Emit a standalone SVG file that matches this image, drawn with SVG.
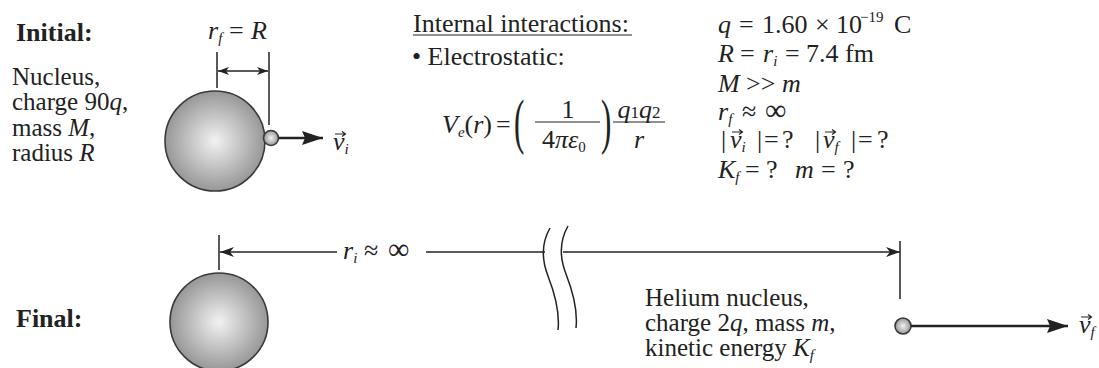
<svg xmlns="http://www.w3.org/2000/svg" width="1099" height="368" viewBox="0 0 1099 368">
<style>
text{font-family:"Liberation Serif","DejaVu Serif",serif;font-size:26px;fill:#222}
.blk{font-size:25px}
.b{font-weight:bold}
.i{font-style:italic}
.sub{font-size:15px;font-style:italic}
.sup{font-size:15px}
.ln{stroke:#222;stroke-width:1.5;fill:none}
.vel{stroke:#222;stroke-width:2.6;fill:none}
.sph{fill:url(#g);stroke:#3a3a3a;stroke-width:1.6}
.va{stroke:#222;stroke-width:1.2;fill:none}
</style>
<defs>
<radialGradient id="g" cx="50%" cy="50%" r="55%">
<stop offset="0" stop-color="#f2f2f2"/>
<stop offset="1" stop-color="#8e8e8e"/>
</radialGradient>
<marker id="ah" markerUnits="userSpaceOnUse" markerWidth="24" markerHeight="16" refX="21" refY="7" orient="auto">
<path d="M0,0 L21,7 L0,14 L3,7 z" fill="#222"/>
</marker>
<marker id="ad" markerUnits="userSpaceOnUse" markerWidth="16" markerHeight="12" refX="14" refY="5" orient="auto-start-reverse">
<path d="M0,0 L14,5 L0,10 L4,5 z" fill="#222"/>
</marker>
<marker id="as" markerUnits="userSpaceOnUse" markerWidth="14" markerHeight="10" refX="11" refY="4" orient="auto-start-reverse">
<path d="M0,0 L11,4 L0,8 L3,4 z" fill="#222"/>
</marker>
<g id="varr"><path d="M0,0 H10 M7,-2.6 L10.5,0 L7,2.6" class="va"/></g>
</defs>

<g id="labels-left">
<text x="16" y="41" class="b">Initial:</text>
<text x="12" y="85" class="blk">Nucleus,</text>
<text x="12" y="110" class="blk">charge 90<tspan class="i">q</tspan>,</text>
<text x="12" y="136" class="blk">mass <tspan class="i">M</tspan>,</text>
<text x="12" y="161" class="blk">radius <tspan class="i">R</tspan></text>
<text x="16" y="327" class="b">Final:</text>
</g>

<g id="nucleus-initial">
<circle cx="215" cy="141" r="50" class="sph"/>
</g>
<g id="alpha-initial">
<circle cx="271" cy="138" r="7.5" class="sph"/>
</g>
<g id="rf-label">
<text x="208" y="39"><tspan class="i">r</tspan><tspan class="sub" dy="4">f</tspan><tspan x="229" y="39">=</tspan><tspan x="251" class="i">R</tspan></text>
</g>
<g id="vi-label">
<text x="333" y="150" class="i">v<tspan class="sub" dy="4">i</tspan></text>
<use href="#varr" x="335" y="134"/>
</g>

<g id="internal">
<text x="413" y="32">Internal interactions:</text>
<line x1="413" y1="35" x2="632" y2="35" stroke="#222" stroke-width="1"/>
<text x="412" y="65">• Electrostatic:</text>
</g>

<g id="formula">
<text x="442" y="133"><tspan class="i">V</tspan><tspan class="sub" dy="4">e</tspan><tspan dy="-4">(</tspan><tspan class="i">r</tspan>)</text>
<text x="496" y="133">=</text>
<text transform="translate(514,142) scale(0.5,1)" style="font-size:62px">(</text>
<text x="568" y="118" text-anchor="middle">1</text>
<line x1="535" y1="122" x2="600" y2="122" stroke="#222" stroke-width="1.2"/>
<text x="542" y="148">4<tspan class="i">πε</tspan><tspan class="sup" dy="4">0</tspan></text>
<text transform="translate(601,142) scale(0.5,1)" style="font-size:62px">)</text>
<text x="639" y="118" text-anchor="middle"><tspan class="i">q</tspan><tspan style="font-size:17px">1</tspan><tspan class="i">q</tspan><tspan style="font-size:17px">2</tspan></text>
<line x1="613" y1="122" x2="665" y2="122" stroke="#222" stroke-width="1.2"/>
<text x="639" y="148" text-anchor="middle" class="i">r</text>
</g>

<g id="givens">
<text y="33"><tspan x="718" class="i">q</tspan><tspan x="739">=</tspan><tspan x="762">1.60</tspan><tspan x="815">×</tspan><tspan x="836">10</tspan><tspan class="sup" x="860" y="22">−19</tspan><tspan x="894" y="33">C</tspan></text>
<text y="62"><tspan x="718" class="i">R</tspan><tspan x="740">=</tspan><tspan x="763" class="i">r</tspan><tspan class="sub" dy="4">i</tspan><tspan x="785" y="62">=</tspan><tspan x="806">7.4 fm</tspan></text>
<text y="92"><tspan x="718" class="i">M</tspan><tspan x="746">&gt;&gt;</tspan><tspan x="782" class="i">m</tspan></text>
<text y="120"><tspan x="718" class="i">r</tspan><tspan class="sub" dy="4">f</tspan><tspan x="742" y="120">≈</tspan><tspan x="765" style="font-size:30px">∞</tspan></text>
<text y="148"><tspan x="721">|</tspan><tspan x="730" class="i">v</tspan><tspan class="sub" dy="4">i</tspan><tspan x="757" y="148">|</tspan><tspan x="764">=</tspan><tspan x="782">?</tspan><tspan x="815">|</tspan><tspan x="823" class="i">v</tspan><tspan class="sub" dy="4">f</tspan><tspan x="851" y="148">|</tspan><tspan x="858">=</tspan><tspan x="877">?</tspan></text>
<use href="#varr" x="732" y="132"/>
<use href="#varr" x="825" y="132"/>
<text y="178"><tspan x="718" class="i">K</tspan><tspan class="sub" dy="4">f</tspan><tspan x="745" y="178">=</tspan><tspan x="766">?</tspan><tspan x="795" class="i">m</tspan><tspan x="821">=</tspan><tspan x="843">?</tspan></text>
</g>

<g id="nucleus-final">
<circle cx="219" cy="322" r="49" class="sph"/>
</g>
<g id="alpha-final">
<circle cx="903" cy="326" r="8" class="sph"/>
</g>
<g id="helium-label">
<text x="645" y="306" class="blk">Helium nucleus,</text>
<text x="645" y="331" class="blk">charge 2<tspan class="i">q</tspan>, mass <tspan class="i">m</tspan>,</text>
<text x="645" y="356" class="blk">kinetic energy <tspan class="i">K</tspan><tspan class="sub" dy="4">f</tspan></text>
</g>
<g id="ri-label">
<text y="259"><tspan x="343" class="i">r</tspan><tspan class="sub" dy="4">i</tspan><tspan x="364" y="259">≈</tspan><tspan x="388" style="font-size:30px">∞</tspan></text>
</g>
<g id="vf-label">
<text x="1079" y="333" class="i">v<tspan class="sub" dy="4">f</tspan></text>
<use href="#varr" x="1081" y="317"/>
</g>

<g id="connectors">
<line x1="217" y1="52" x2="217" y2="88" class="ln"/>
<line x1="269" y1="52" x2="269" y2="125" class="ln"/>
<line x1="218" y1="71" x2="268" y2="71" class="ln" marker-start="url(#as)" marker-end="url(#as)"/>
<line x1="279" y1="138" x2="323" y2="138" class="vel" marker-end="url(#ah)"/>
<line x1="219" y1="235" x2="219" y2="270" class="ln"/>
<line x1="337" y1="252" x2="220" y2="252" class="ln" marker-end="url(#ad)"/>
<line x1="426" y1="252" x2="545" y2="252" class="ln"/>
<line x1="563" y1="252" x2="900" y2="252" class="ln" marker-end="url(#ad)"/>
<line x1="900" y1="241" x2="900" y2="299" class="ln"/>
<path d="M550,228 C542,242 541,258 548,276 C555,294 560,312 558,330" class="ln"/>
<path d="M568,226 C560,240 559,256 566,274 C573,292 578,310 576,328" class="ln"/>
<line x1="911" y1="326" x2="1068" y2="326" class="vel" marker-end="url(#ah)"/>
</g>
</svg>
